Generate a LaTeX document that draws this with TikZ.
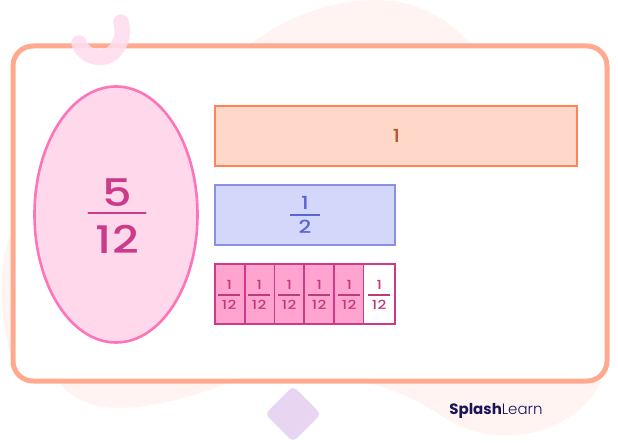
\documentclass[tikz,border=0pt]{standalone}
\usepackage{fontspec}
\usetikzlibrary{shapes.geometric}
\setmainfont{Poppins}
\newfontface\logolight{Poppins Light}
\newfontface\numfont[FakeStretch=1.22,LetterSpace=3]{Poppins Medium}
\definecolor{framecol}{HTML}{FFA98F}
\definecolor{blobcol}{HTML}{FFF4F1}
\definecolor{curlcol}{HTML}{FFDDEE}
\definecolor{diamcol}{HTML}{E8D5F2}
\definecolor{ovalfill}{HTML}{FFD8EC}
\definecolor{ovaldraw}{HTML}{FF73B9}
\definecolor{ovaltext}{HTML}{CC3A8A}
\definecolor{wholefill}{HTML}{FFD8CA}
\definecolor{wholedraw}{HTML}{FF8357}
\definecolor{wholetext}{HTML}{B85A35}
\definecolor{halffill}{HTML}{D3D7F9}
\definecolor{halfdraw}{HTML}{8A90E2}
\definecolor{halftext}{HTML}{5B66D2}
\definecolor{partfill}{HTML}{FFA3CF}
\definecolor{partdraw}{HTML}{CF3A88}
\definecolor{parttext}{HTML}{BD3A7E}
\definecolor{logocol}{HTML}{1A1358}
\tikzset{
  barbox/.style={draw,line width=1.8pt,minimum height=60pt,inner sep=0pt,outer sep=0pt,anchor=north west},
  partbox/.style={draw=partdraw,line width=1.8pt,minimum height=60pt,minimum width=29.7pt,inner sep=0pt,outer sep=0pt,anchor=north west},
  partnum/.style={text=parttext,inner sep=0pt,font=\fontsize{12.5}{13}\selectfont\numfont},
  halfnum/.style={text=halftext,inner sep=0pt,font=\fontsize{18}{18}\selectfont\numfont},
  ovalnum/.style={text=ovaltext,inner sep=0pt,font=\fontsize{38}{38}\selectfont\numfont},
}
\begin{document}
\begin{tikzpicture}[x=1pt,y=-1pt]
  \useasboundingbox (0,0) rectangle (618,443);
  % background
  \fill[blobcol] (250,44) .. controls (285,18) and (330,0) .. (377,0) .. controls (415,0) and (448,18) .. (470,44) -- cycle;
  \fill[blobcol] (10,235) .. controls (-3,270) and (0,320) .. (12,360) -- (60,382) .. controls (75,405) and (105,409) .. (125,408) .. controls (160,406) and (200,395) .. (232,381) -- cycle;
  \fill[blobcol] (360,381) .. controls (400,390) and (425,405) .. (445,418) .. controls (475,438) and (510,438) .. (535,432) .. controls (570,422) and (590,405) .. (602,380) -- cycle;
  \fill[white] (13,46) rectangle (607,381);
  \draw[framecol,line width=5pt,rounded corners=20pt] (13,46) rectangle (607,381);
  % decorations
  \draw[curlcol,opacity=.9,line width=15.5pt,line cap=round] (79,43) .. controls (85,60) and (110,63) .. (118,46) .. controls (123,38) and (123,30) .. (121,22);
  \fill[diamcol,rounded corners=5pt] (293,386) -- (321,414) -- (293,442) -- (265,414) -- cycle;
  % oval
  \node[draw=ovaldraw,fill=ovalfill,line width=2.6pt,ellipse,outer sep=0pt,minimum width=163pt,minimum height=256pt,inner sep=0pt] (oval) at (116,214.5) {};
  \node[ovalnum] (ovaltop) at (117.5,193) {5};
  \node[ovalnum] (ovalbot) at (117.5,239) {12};
  \draw[ovaltext,line width=2.2pt,line cap=round] (88.5,213) -- (145.5,213);
  % bars
  \node[barbox,draw=wholedraw,fill=wholefill,minimum width=362pt] (whole) at (215,106) {};
  \node[text=wholetext,inner sep=0pt,font=\fontsize{18}{18}\selectfont\numfont] (wholenum) at (396.5,136) {1};
  \node[barbox,draw=halfdraw,fill=halffill,minimum width=180pt] (half) at (215,185) {};
  \node[halfnum] (halftop) at (305,203) {1};
  \node[halfnum] (halfbot) at (305,227) {2};
  \draw[halftext,line width=1.3pt] (290,215) -- (320,215);
  \foreach \i in {0,...,5}{
    \pgfmathsetmacro{\px}{215+29.7*\i}
    \pgfmathsetmacro{\tx}{229.2+30*\i}
    \ifnum\i<5
      \node[partbox,fill=partfill] (part\i) at (\px,264) {};
    \else
      \node[partbox,fill=white,minimum width=31.5pt] (part\i) at (\px,264) {};
    \fi
    \node[partnum] (top\i) at (\tx,284.5) {1};
    \node[partnum] (bot\i) at (\tx,304.5) {12};
    \draw[parttext,line width=1.2pt] (\tx-11,295) -- (\tx+11,295);
  }
  % logo
  \node[text=logocol,font=\fontsize{15}{15}\selectfont,inner sep=0pt] (logo) at (496,411) {\textbf{Splash}{\logolight Learn}};
\end{tikzpicture}
\end{document}
